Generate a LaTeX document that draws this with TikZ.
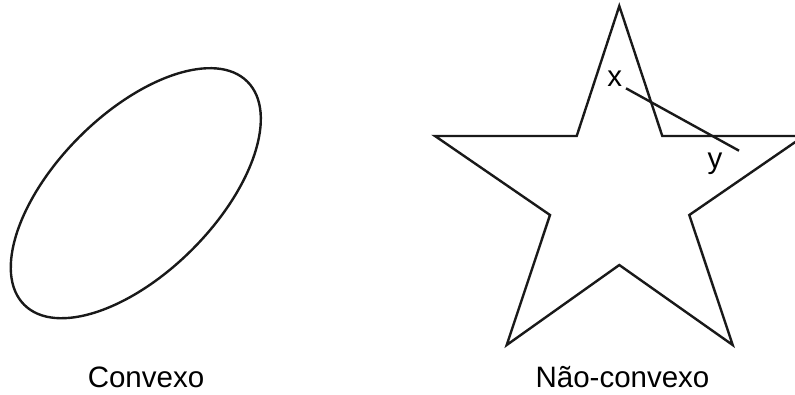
\documentclass[tikz,border=0pt]{standalone}
\usepackage{fontspec}
\setmainfont{Liberation Sans}
\usetikzlibrary{positioning}

\begin{document}
\begin{tikzpicture}[
    x=1pt, y=-1pt,
    outline/.style={draw, line width=2.4pt, line join=miter, black!90},
    caption/.style={font=\fontsize{29.5}{34}\selectfont, inner sep=0pt, anchor=base},
    pointlabel/.style={font=\fontsize{29.5}{34}\selectfont, inner sep=0pt, anchor=base}
  ]
    \useasboundingbox (0,0) rectangle (795,394);
    \clip (0,0) rectangle (795,394);

    % convex shape
    \coordinate (ovalc) at (135.8,193.2);
    \draw[outline, rotate around={45:(ovalc)}] (ovalc) ellipse [x radius=157.8, y radius=79.7];
    \node[caption] (convexo) at (146,387) {Convexo};

    % star
    \coordinate (top)    at (619.3,6);
    \coordinate (inUR)   at (662.3,136);
    \coordinate (tipR)   at (804,136);
    \coordinate (inR)    at (689.3,215);
    \coordinate (botR)   at (732.7,345);
    \coordinate (inB)    at (619.3,265);
    \coordinate (botL)   at (506.7,345);
    \coordinate (inL)    at (550,215);
    \coordinate (tipL)   at (435,136);
    \coordinate (inUL)   at (576.7,136);
    \draw[outline] (top) -- (inUR) -- (tipR) -- (inR) -- (botR) -- (inB)
      -- (botL) -- (inL) -- (tipL) -- (inUL) -- cycle;
    \node[caption] (naoconvexo) at (622.5,387) {Não-convexo};

    % segment leaving the star
    \node[pointlabel] (lblx) at (614.7,86) {x};
    \node[pointlabel] (lbly) at (715,168) {y};
    \coordinate (px) at (626,88.3);
    \coordinate (py) at (739,150.7);
    \draw[outline] (px) -- (py);
  \end{tikzpicture}
\end{document}
